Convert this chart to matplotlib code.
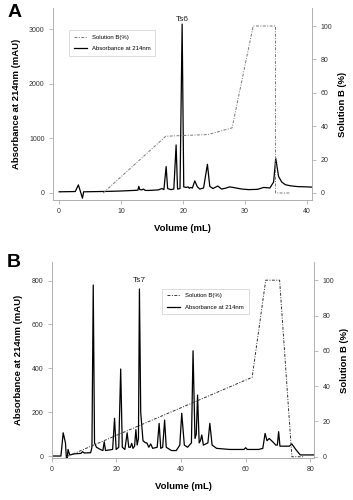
import matplotlib
matplotlib.use('Agg')
import matplotlib.pyplot as plt

plt.rcParams['font.family'] = ['Liberation Sans', 'DejaVu Sans']

# panel A: absorbance trace (volume mL, mAU)
a_vol = [0, 2.6, 3.1, 3.45, 3.76, 3.95, 5, 8, 10, 12.0, 12.7, 12.85, 13.0, 13.3, 13.6, 13.9,
         14.5, 16.0, 16.6, 16.9, 17.26, 17.5, 18.0, 18.5, 18.87, 19.1, 19.5, 19.84, 20.1,
         20.5, 20.8, 21.0, 21.2, 21.5, 21.88, 22.3, 22.7, 23.3, 23.92, 24.3, 24.8, 25.6,
         26.2, 26.8, 27.5, 28.3, 29.5, 30.6, 32.0, 33.0, 34.0, 34.6, 34.94, 35.4, 35.9,
         36.5, 37.3, 38.5, 40, 41]
a_abs = [20, 25, 146, 20, -97, 20, 22, 28, 35, 45, 50, 120, 60, 55, 70, 45,
         45, 55, 80, 60, 482, 80, 60, 70, 878, 70, 80, 3091, 110,
         100, 110, 85, 100, 90, 220, 110, 70, 90, 524, 120, 80, 126,
         70, 85, 110, 95, 70, 60, 65, 100, 90, 200, 634, 300, 200,
         150, 130, 115, 110, 105]

# panel A: solution B gradient (%)
a_grad_vol = [7.1, 17.2, 24.0, 27.9, 31.3, 34.9, 34.9, 37.3]
a_grad_pct = [0, 34, 35, 39, 100, 100, 0, 0]

# panel B: absorbance trace (volume mL, mAU)
b_vol = [0, 2.8, 3.5, 4.2, 4.6, 5.0, 5.5, 7, 9, 9.5, 10, 12.0, 12.4, 12.8, 13.2, 13.8,
         15.0, 15.8, 16.2, 16.6, 18.8, 19.4, 19.9, 20.7, 21.3, 21.8, 22.6, 23.3, 23.8,
         24.3, 24.7, 25.1, 25.6, 26.0, 26.4, 26.8, 27.1, 27.5, 28.2, 29.0, 29.4, 30.0,
         30.6, 31.2, 32.6, 33.2, 33.7, 34.3, 34.9, 35.4, 37.0, 37.8, 38.5, 39.6, 40.2,
         41.0, 42.0, 43.2, 43.7, 44.3, 44.7, 45.1, 45.6, 46.0, 46.4, 46.9, 48.3, 48.9,
         49.6, 51, 55, 59.5, 60, 60.5, 64, 65.3, 66.0, 66.6, 67.3, 68.0, 68.7, 69.3,
         69.8, 70.2, 70.6, 71.5, 73.5, 74.3, 75.5, 76.9, 79, 82]
b_abs = [0, 0, 106, 60, -35, 30, 5, 10, 12, 20, 14, 15, 40, 780, 60, 40,
         30, 25, 65, 25, 30, 172, 30, 40, 397, 40, 30, 106, 40,
         40, 58, 35, 45, 120, 50, 80, 762, 200, 70, 60, 60, 40,
         55, 35, 40, 149, 35, 40, 164, 40, 25, 25, 25, 50, 195,
         50, 40, 60, 480, 80, 100, 278, 60, 70, 96, 50, 60, 149,
         50, 35, 30, 30, 38, 30, 30, 35, 103, 70, 80, 70, 60, 50,
         50, 111, 45, 45, 45, 55, 30, 5, 5, 5]

# panel B: solution B gradient (%)
b_grad_vol = [4.5, 62.0, 66.2, 70.5, 73.8, 74.3, 78]
b_grad_pct = [0, 45, 100, 100, 13, 0, 0]

spine_col = '#b0b0b0'
tick_col = '#333333'
dash = (0, (3, 1.5, 1, 1.5))


def style_axes(ax, ax2):
    for a in (ax, ax2):
        a.spines['top'].set_visible(False)
        for s in ('left', 'right', 'bottom'):
            a.spines[s].set_color(spine_col)
            a.spines[s].set_linewidth(0.7)
        a.tick_params(labelsize=5, colors=spine_col, labelcolor=tick_col,
                      length=3, width=0.6, pad=3)
    ax2.spines['left'].set_visible(False)
    ax.spines['right'].set_visible(False)


fig = plt.figure(figsize=(3.53, 5.0), dpi=100)

# ---------------- panel A ----------------
ax = fig.add_axes([0.150, 0.600, 0.734, 0.384])
ax2 = ax.twinx()
ax.plot(a_vol, a_abs, color='black', lw=0.9, label='Absorbance at 214nm')
ax2.plot(a_grad_vol, a_grad_pct, color='#777777', lw=0.7, linestyle=dash,
         label='Solution B(%)')
ax.set_xlim(-1, 40.8)
ax.set_ylim(-130, 3385)
ax2.set_ylim(-4.2, 110.8)
ax.set_xticks([0, 10, 20, 30, 40])
ax.set_yticks([0, 1000, 2000, 3000])
ax2.set_yticks([0, 20, 40, 60, 80, 100])
style_axes(ax, ax2)
ax.set_xlabel('Volume (mL)', fontsize=6.8, fontweight='bold', labelpad=6)
ax.set_ylabel('Absorbance at 214nm (mAU)', fontsize=6.8, fontweight='bold', labelpad=6)
ax2.set_ylabel('Solution B (%)', fontsize=6.8, fontweight='bold', labelpad=4)
ax.text(19.9, 3110, 'Ts6', fontsize=6, ha='center', va='bottom', color='#222222')
h1, l1 = ax2.get_legend_handles_labels()
h2, l2 = ax.get_legend_handles_labels()
leg = ax.legend(h1 + h2, l1 + l2, loc='upper left', bbox_to_anchor=(0.05, 0.90),
                fontsize=4.3, frameon=True, fancybox=False, handlelength=2.2,
                borderpad=0.8, labelspacing=1.0, edgecolor='#cccccc')
leg.get_frame().set_linewidth(0.6)
fig.text(0.04, 0.975, 'A', fontsize=14, fontweight='bold', va='center', ha='center')

# ---------------- panel B ----------------
bx = fig.add_axes([0.147, 0.084, 0.743, 0.392])
bx2 = bx.twinx()
bx.plot(b_vol, b_abs, color='black', lw=0.9, label='Absorbance at 214nm')
bx2.plot(b_grad_vol, b_grad_pct, color='#333333', lw=0.7, linestyle=dash,
         label='Solution B(%)')
bx.set_xlim(0, 81.2)
bx.set_ylim(-9, 885)
bx2.set_ylim(-0.7, 110.3)
bx.set_xticks([0, 20, 40, 60, 80])
bx.set_yticks([0, 200, 400, 600, 800])
bx2.set_yticks([0, 20, 40, 60, 80, 100])
style_axes(bx, bx2)
bx.set_xlabel('Volume (mL)', fontsize=6.8, fontweight='bold', labelpad=6)
bx.set_ylabel('Absorbance at 214nm (mAU)', fontsize=6.8, fontweight='bold', labelpad=6)
bx2.set_ylabel('Solution B (%)', fontsize=6.8, fontweight='bold', labelpad=4)
bx.text(27.1, 785, 'Ts7', fontsize=6, ha='center', va='bottom', color='#222222')
h1, l1 = bx2.get_legend_handles_labels()
h2, l2 = bx.get_legend_handles_labels()
leg = bx.legend(h1 + h2, l1 + l2, loc='upper left', bbox_to_anchor=(0.41, 0.88),
                fontsize=4.3, frameon=True, fancybox=False, handlelength=2.2,
                borderpad=0.8, labelspacing=1.0, edgecolor='#cccccc')
leg.get_frame().set_linewidth(0.6)
fig.text(0.04, 0.475, 'B', fontsize=14, fontweight='bold', va='center', ha='center')

fig.savefig('out.png', dpi=100)
